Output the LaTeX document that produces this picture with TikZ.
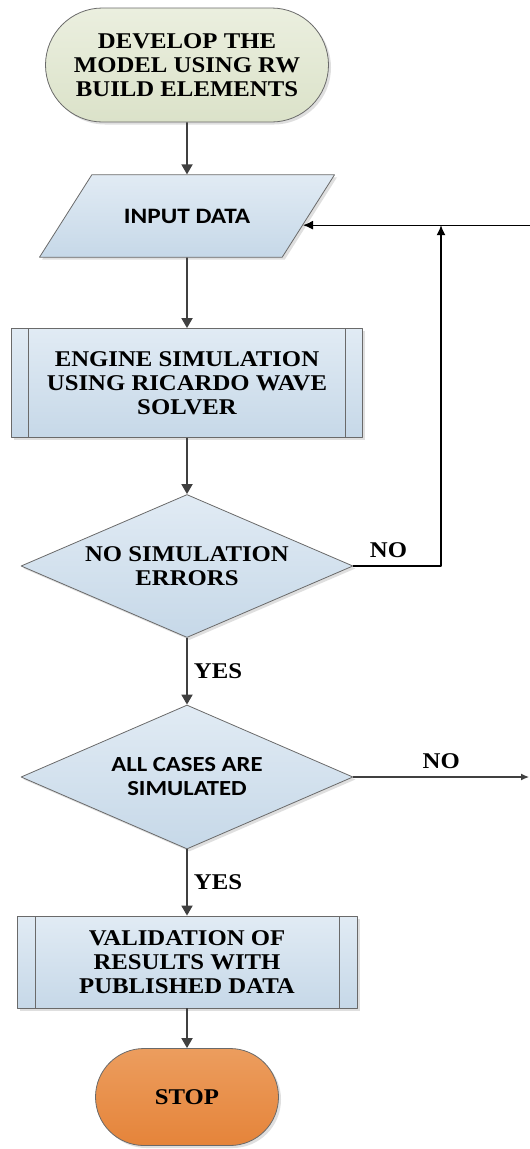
\documentclass[tikz,border=0pt]{standalone}
\usepackage{fontspec}
\setmainfont{Liberation Serif}[FakeStretch=1.1]
\newfontfamily\sansb{Carlito}[FakeStretch=1.15]
\usetikzlibrary{shapes.geometric,shapes.misc,shadows,arrows.meta,calc}
\definecolor{edgegray}{HTML}{6A6A6A}
\definecolor{arrgray}{HTML}{404040}
\definecolor{bluetop}{HTML}{E1EBF4}
\definecolor{bluebot}{HTML}{C6D8E8}
\definecolor{greentop}{HTML}{EBEFDF}
\definecolor{greenbot}{HTML}{DBE2C9}
\definecolor{orangetop}{HTML}{EC9D5E}
\definecolor{orangebot}{HTML}{E5843A}
\tikzset{
    base/.style={draw=edgegray, line width=0.8pt, align=center, inner sep=2pt,
        font=\fontsize{22.5}{24}\selectfont\bfseries,
        drop shadow={shadow xshift=2.5pt, shadow yshift=-2.5pt, fill=black!25}},
    bluefill/.style={top color=bluetop, bottom color=bluebot},
    startbox/.style={base, rounded rectangle, top color=greentop, bottom color=greenbot},
    stopbox/.style={base, rounded rectangle, top color=orangetop, bottom color=orangebot},
    inputbox/.style={base, bluefill, trapezium, trapezium left angle=57.6, trapezium right angle=122.4,
        trapezium stretches body=true, inner xsep=2pt, inner ysep=34pt,
        font=\sansb\fontsize{22}{24}\selectfont\bfseries},
    procbox/.style={base, bluefill, rectangle, path picture={
        \draw[edgegray, line width=0.8pt] ([xshift=#1]path picture bounding box.north west) -- ([xshift=#1]path picture bounding box.south west);
        \draw[edgegray, line width=0.8pt] ([xshift=-#1]path picture bounding box.north east) -- ([xshift=-#1]path picture bounding box.south east);}},
    decision/.style={base, bluefill, diamond, aspect=2.32, inner sep=0pt},
    flow/.style={draw=arrgray, line width=1.8pt, -{Triangle[length=10pt,width=11pt]}},
    fb/.style={draw=black, line width=1.2pt, -{Latex[length=10pt,width=9pt]}},
    lab/.style={font=\fontsize{22.5}{24}\selectfont\bfseries, inner sep=0pt}
}
\begin{document}
\begin{tikzpicture}[x=1pt, y=-1pt, line join=round]
    \useasboundingbox (0,0) rectangle (530,1149);
    % boxes
    \node[startbox, minimum width=287pt, minimum height=114pt] (dev) at (187,65) {DEVELOP THE\\MODEL USING RW\\BUILD ELEMENTS};
    \node[inputbox, minimum width=295pt] (inp) at (187,216) {INPUT DATA};
    \node[procbox=17pt, minimum width=351pt, minimum height=109pt] (eng) at (187,383) {ENGINE SIMULATION\\USING RICARDO WAVE\\SOLVER};
    \node[decision, minimum width=332pt, minimum height=143pt] (chk1) at (187,566) {NO SIMULATION\\ERRORS};
    \node[decision, minimum width=332pt, minimum height=144pt, font=\sansb\fontsize{21.5}{24}\selectfont\bfseries] (chk2) at (187,777) {ALL CASES ARE\\SIMULATED};
    \node[procbox=18pt, minimum width=340pt, minimum height=92pt] (val) at (187,962) {VALIDATION OF\\RESULTS WITH\\PUBLISHED DATA};
    \node[stopbox, minimum width=187pt, minimum height=97pt] (stop) at (187,1097) {STOP};
    % loop points
    \coordinate (inpR) at ($(inp.bottom right corner)!0.39!(inp.top right corner)$);
    \coordinate (rin) at (inpR -| 530,0);
    \coordinate (jn) at (rin -| 441,0);
    \coordinate (rout) at (chk2.east -| 529,0);
    % main flow
    \draw[flow] (dev) -- (inp);
    \draw[flow] (inp) -- (eng);
    \draw[flow] (eng) -- (chk1);
    \draw[flow] (chk1) -- node[lab, right=6pt]{YES} (chk2);
    \draw[flow] (chk2) -- node[lab, right=6pt]{YES} (val);
    \draw[flow] (val) -- (stop);
    % feedback
    \draw[fb] (rin) -- (inpR);
    \draw[fb] (chk1.east) -- node[lab, pos=0.4, above=8pt]{NO} (chk1.east -| jn) -- (jn);
    \draw[draw=arrgray, line width=1.2pt, -{Latex[length=8pt,width=7pt]}] (chk2.east) -- node[lab, above=8pt]{NO} (rout);
\end{tikzpicture}
\end{document}
